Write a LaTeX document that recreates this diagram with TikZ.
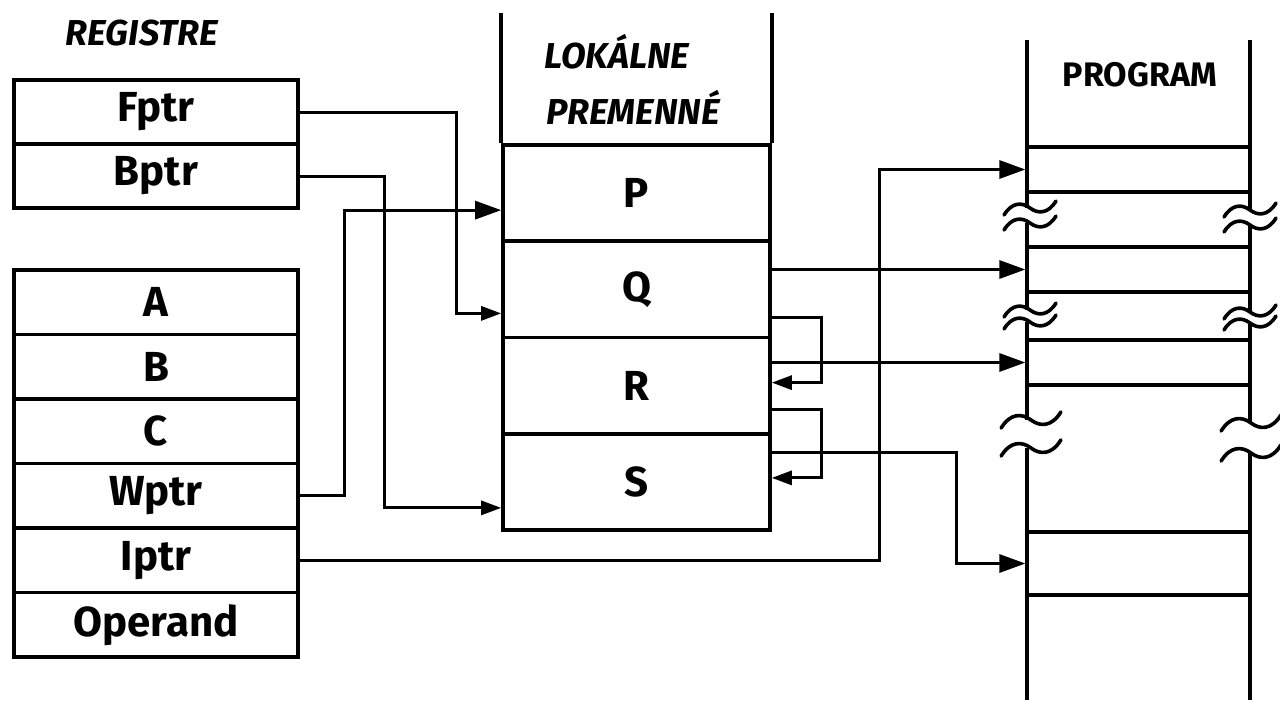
\documentclass[tikz,border=0pt]{standalone}
\usepackage{fontspec}
\setmainfont{Fira Sans}
\usetikzlibrary{arrows.meta,calc}
\begin{document}
\begin{tikzpicture}[x=0.5pt,y=-0.5pt,
  box/.style={draw,line width=1.8pt,rectangle,inner sep=0pt,font=\fontsize{21}{24}\selectfont\bfseries},
  conn/.style={line width=1.5pt},
  bigtip/.style={-{Triangle[length=13pt,width=9pt]}},
  midtip/.style={-{Triangle[length=10pt,width=7pt]}},
  hdr/.style={font=\fontsize{18}{20}\selectfont\bfseries\itshape},
  hdrup/.style={font=\fontsize{17}{20}\selectfont\bfseries},
  wall/.style={line width=1.8pt},
  brk/.pic={\draw[line width=1.8pt,line cap=round] (-26,7) .. controls (-18,-6) and (-8,-6) .. (0,0) .. controls (8,6) and (18,6) .. (26,-7);}
]
\useasboundingbox (0,0) rectangle (1280,703);

% ---- registers
\node[hdr] (regh) at (142,33) {REGISTRE};
\node[box,minimum width=142pt,minimum height=32pt] (fptr) at (156,112) {Fptr};
\node[box,minimum width=142pt,minimum height=32pt] (bptr) at (156,176) {Bptr};

\node[box,minimum width=142pt,minimum height=32.25pt] (A) at (156,302.25) {A};
\node[box,minimum width=142pt,minimum height=32.25pt] (B) at (156,366.75) {B};
\node[box,minimum width=142pt,minimum height=32.25pt] (C) at (156,431.25) {C};
\node[box,minimum width=142pt,minimum height=32.25pt] (wptr) at (156,495.75) {Wptr};
\node[box,minimum width=142pt,minimum height=32.25pt] (iptr) at (156,560.25) {Iptr};
\node[box,minimum width=142pt,minimum height=32.25pt] (oper) at (156,624.75) {Operand};

% ---- local variables
\node[box,minimum width=133.5pt,minimum height=48.125pt] (P) at (636.5,193.125) {P};
\node[box,minimum width=133.5pt,minimum height=48.125pt] (Q) at (636.5,289.375) {Q};
\node[box,minimum width=133.5pt,minimum height=48.125pt] (R) at (636.5,385.625) {R};
\node[box,minimum width=133.5pt,minimum height=48.125pt] (S) at (636.5,481.875) {S};
\draw[wall] (P.north west) -- ++(0,-130);
\draw[wall] (P.north east) -- ++(0,-130);
\node[hdr] (lokh) at (617,52) {LOKÁLNE};
\node[hdr] (premh) at (633,107) {PREMENNÉ};

% ---- program
\node[hdrup] (progh) at (1140,75) {PROGRAM};
\node[box,line width=1.6pt,minimum width=111.5pt,minimum height=22.5pt] (prog1) at (1138.5,169.5) {};
\node[box,line width=1.6pt,minimum width=111.5pt,minimum height=22.5pt] (prog2) at (1138.5,269.5) {};
\node[box,line width=1.6pt,minimum width=111.5pt,minimum height=22.5pt] (prog3) at (1138.5,362.5) {};
\node[box,line width=1.6pt,minimum width=111.5pt,minimum height=31.5pt] (prog4) at (1138.5,563.5) {};

\draw[wall] (1027,40) -- (1027,208);
\draw[wall] (1027,223) -- (1027,310);
\draw[wall] (1027,322) -- (1027,420);
\draw[wall] (1027,448) -- (1027,700);
\draw[wall] (1250,40) -- (1250,210);
\draw[wall] (1250,225) -- (1250,312);
\draw[wall] (1250,323) -- (1250,423);
\draw[wall] (1250,453) -- (1250,700);

\pic at (1030,208) {brk};
\pic at (1030,223) {brk};
\pic at (1030,310) {brk};
\pic at (1030,322) {brk};
\pic[scale=1.15] at (1031,420) {brk};
\pic[scale=1.15] at (1031,448) {brk};
\pic at (1250,210) {brk};
\pic at (1250,225) {brk};
\pic at (1250,312) {brk};
\pic at (1250,323) {brk};
\pic[scale=1.15] at (1251,423) {brk};
\pic[scale=1.15] at (1251,453) {brk};

% ---- connectors
\draw[conn,midtip] (fptr.east) -- ++(157,0) |- ($(Q.west)+(0,24)$);
\draw[conn,midtip] (bptr.east) -- ++(85,0) |- ($(S.west)+(0,26)$);
\draw[conn,bigtip] (wptr.east) -- ++(45,0) |- ($(P.west)+(0,17)$);
\draw[conn,bigtip] (iptr.east) -- ++(580,0) |- (prog1.west);
\draw[conn,bigtip] (Q.east |- prog2.west) -- (prog2.west);
\draw[conn,bigtip] (R.east |- prog3.west) -- (prog3.west);
\draw[conn,bigtip] ($(S.east)+(0,-29)$) -- ++(185,0) |- (prog4.west);
\draw[conn,midtip] ($(Q.east)+(0,28)$) -- ++(50,0) |- ($(R.east)+(0,-3)$);
\draw[conn,midtip] ($(R.east)+(0,24)$) -- ++(50,0) |- ($(S.east)+(0,-4)$);
\end{tikzpicture}
\end{document}
